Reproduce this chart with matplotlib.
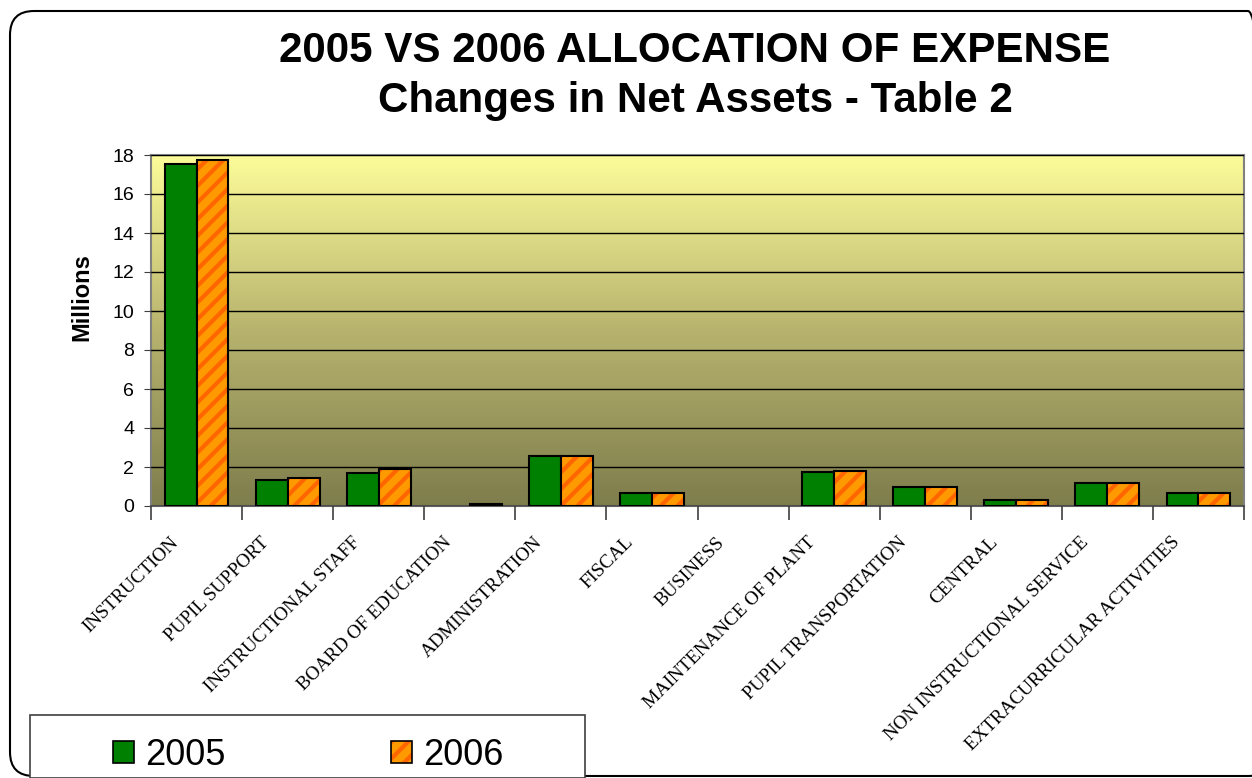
import matplotlib
matplotlib.use("Agg")
import matplotlib.pyplot as plt
import matplotlib.transforms as mtransforms
import numpy as np
from matplotlib.patches import FancyBboxPatch, Patch, Rectangle
from matplotlib.colors import LinearSegmentedColormap
from matplotlib.legend_handler import HandlerTuple

categories = ["INSTRUCTION", "PUPIL SUPPORT", "INSTRUCTIONAL STAFF",
              "BOARD OF EDUCATION", "ADMINISTRATION", "FISCAL", "BUSINESS",
              "MAINTENANCE OF PLANT", "PUPIL TRANSPORTATION", "CENTRAL",
              "NON INSTRUCTIONAL SERVICE", "EXTRACURRICULAR ACTIVITIES"]
vals_2005 = [17.54, 1.33, 1.71, 0.0, 2.56, 0.68, 0.0, 1.73, 0.96, 0.31, 1.16, 0.68]
vals_2006 = [17.74, 1.42, 1.88, 0.12, 2.55, 0.68, 0.0, 1.81, 0.96, 0.31, 1.16, 0.68]
yticks = [0, 2, 4, 6, 8, 10, 12, 14, 16, 18]

plt.rcParams['hatch.linewidth'] = 3.0

W, H = 1252, 778
fig = plt.figure(figsize=(W / 100, H / 100), dpi=100)

# rounded outer frame (pixel coords, y from bottom)
frame = FancyBboxPatch((10, H - 776), 1262, 765,
                       boxstyle="round,pad=0,rounding_size=24",
                       transform=mtransforms.IdentityTransform(), fill=False,
                       edgecolor='black', linewidth=1.5, zorder=0)
fig.patches.append(frame)

ax = fig.add_axes([151 / W, 1 - 506 / H, (1244 - 151) / W, (506 - 155) / H])

# gradient background
cmap = LinearSegmentedColormap.from_list("bg", ["#7e7d4c", "#b7b36e", "#fdfc99"])
grad = np.linspace(0, 1, 256).reshape(-1, 1)
ax.imshow(grad, aspect='auto', cmap=cmap, origin='lower',
          extent=(-0.5, 11.5, 0, 18), zorder=0)

x = np.arange(len(categories))
bw = 0.35
lw05 = [1.5 if v > 0 else 0 for v in vals_2005]
lw06 = [1.5 if v > 0 else 0 for v in vals_2006]
ax.bar(x - bw / 2, vals_2005, bw, color='#008000', edgecolor='black',
       linewidth=lw05, zorder=3)
ax.bar(x + bw / 2, vals_2006, bw, color='#ff9900', edgecolor='#ff6600',
       hatch='//', linewidth=0, zorder=3)
ax.bar(x + bw / 2, vals_2006, bw, fill=False, edgecolor='black',
       linewidth=lw06, zorder=4)

ax.set_xlim(-0.5, 11.5)
ax.set_ylim(0, 18)
ax.set_yticks(yticks)
ax.yaxis.grid(True, color='black', linewidth=1.0, zorder=1)
ax.set_axisbelow(False)

for s in ax.spines.values():
    s.set_color('#808080')
    s.set_linewidth(1.5)
ax.spines['bottom'].set_color('#606060')

ax.tick_params(axis='y', direction='out', length=5, color='#404040',
               labelsize=14, pad=7)
for lab in ax.get_yticklabels():
    lab.set_family('Liberation Sans')

ax.set_xticks(x)
ax.set_xticklabels(categories, rotation=45, ha='right',
                   rotation_mode='anchor', fontsize=13.8,
                   family='Liberation Serif')
ax.tick_params(axis='x', which='major', length=0, pad=20)
ax.set_xticks(np.arange(-0.5, 12, 1), minor=True)
ax.tick_params(axis='x', which='minor', direction='out', length=10,
               color='#404040', width=1.2)
shift = mtransforms.ScaledTranslation(-27 / 100, 0, fig.dpi_scale_trans)
for lab in ax.get_xticklabels():
    lab.set_transform(lab.get_transform() + shift)

fig.text(82 / W, 1 - 297 / H, "Millions", rotation=90, ha='center',
         va='center', fontsize=17, fontweight='bold',
         family='Liberation Sans')

fig.text(695 / W, 1 - 62 / H, "2005 VS 2006 ALLOCATION OF EXPENSE",
         ha='center', va='baseline', fontsize=30.3, fontweight='bold',
         family='Liberation Sans')
fig.text(695 / W, 1 - 112 / H, "Changes in Net Assets - Table 2",
         ha='center', va='baseline', fontsize=30.3, fontweight='bold',
         family='Liberation Sans')

# legend box
fig.patches.append(Rectangle((30 / W, 0), 555 / W, 1 - 715 / H,
                             transform=fig.transFigure, facecolor='white',
                             edgecolor='#404040', linewidth=1.2, zorder=1))
h05 = Patch(facecolor='#008000', edgecolor='black', linewidth=1.2)
h06 = (Patch(facecolor='#ff9900', edgecolor='#ff6600', hatch='//', linewidth=0),
       Patch(fill=False, edgecolor='black', linewidth=1.2))
leg = fig.legend([h05, h06], ["2005", "2006"], loc='upper left',
                 bbox_to_anchor=(113 / W, 1 - 738 / H),
                 ncol=2, frameon=False, borderpad=0, borderaxespad=0,
                 handlelength=0.58, handleheight=0.58, handletextpad=0.3,
                 columnspacing=4.6,
                 handler_map={tuple: HandlerTuple(ndivide=1, pad=0)},
                 prop={'family': 'Liberation Sans', 'size': 26})
leg.set_zorder(2)

fig.savefig("out.png", dpi=100)
